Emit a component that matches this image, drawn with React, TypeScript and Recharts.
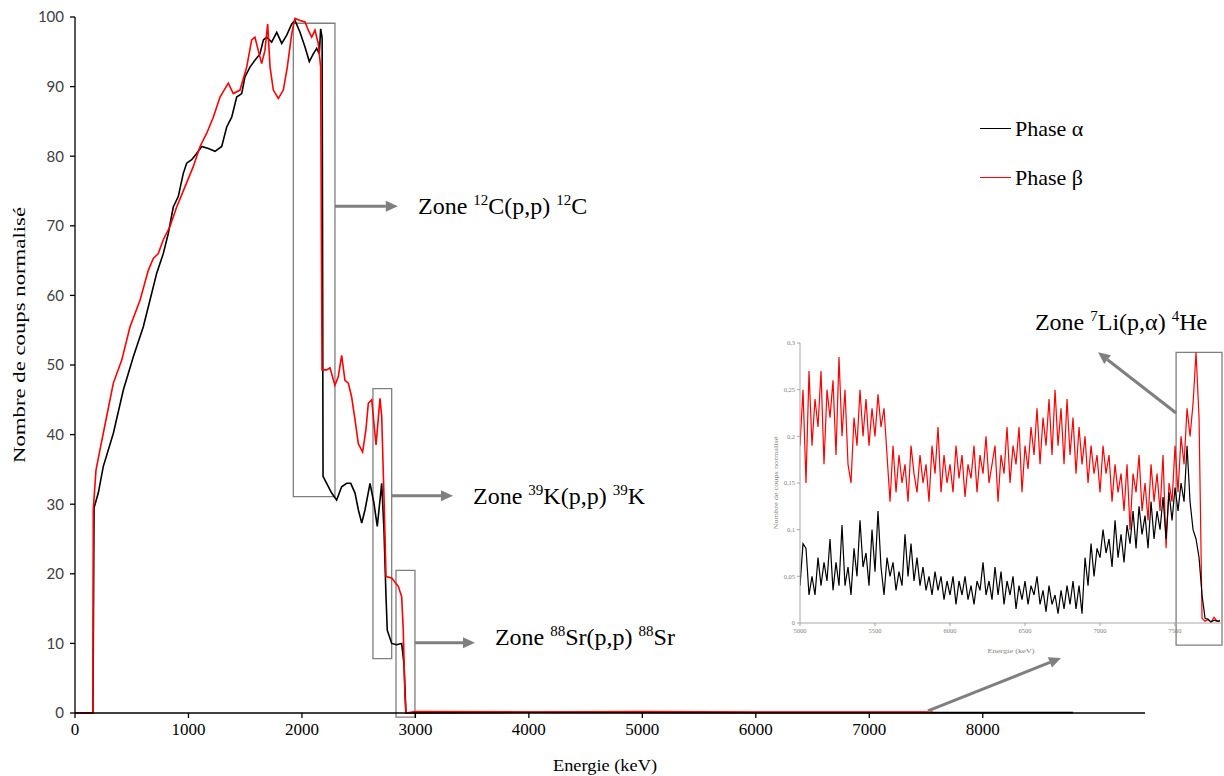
import React from "react";
import {
  Legend,
  Line,
  LineChart,
  ReferenceArea,
  ReferenceDot,
  ReferenceLine,
  XAxis,
  YAxis
} from "recharts";

const SERIF = '"Liberation Serif", "Times New Roman", serif';
const SANS = 'Lato, "Liberation Sans", sans-serif';
const GREY = "#7f7f7f";

// main spectrum
const energyTicks = [0, 1000, 2000, 3000, 4000, 5000, 6000, 7000, 8000];
const countTicks = [0, 10, 20, 30, 40, 50, 60, 70, 80, 90, 100];

// Phase α (black)
const alphaEnergy = [
  0, 158, 168, 205, 249, 338, 426, 514, 602, 676, 720, 778, 822, 866, 910, 954, 984, 1028,
  1072, 1117, 1175, 1234, 1293, 1337, 1381, 1425, 1469, 1498, 1542, 1586, 1630, 1660, 1689,
  1733, 1778, 1822, 1866, 1910, 1939, 1983, 2027, 2065, 2100, 2130, 2153, 2165, 2178, 2186,
  2218, 2262, 2306, 2350, 2394, 2430, 2468, 2497, 2527, 2556, 2600, 2635, 2664, 2703, 2723,
  2741, 2752, 2791, 2835, 2879, 2899, 2917, 4000, 6000, 8795
];
const alphaCounts = [
  0, 0, 29.5, 31.6, 35.4, 40.2, 46.4, 51.2, 55.5, 60.3, 63.2, 66.0, 68.9, 72.7, 74.2, 77.5, 79.0,
  79.5, 80.4, 81.4, 81.1, 80.7, 81.4, 84.2, 85.6, 88.5, 89.0, 91.4, 92.8, 93.8, 94.7, 96.7, 97.1,
  96.4, 97.8, 96.2, 97.4, 99.0, 99.5, 97.8, 95.7, 93.6, 94.7, 95.5, 94.7, 98.3, 97.0, 34.0,
  33.0, 31.6, 30.6, 32.5, 33.0, 33.0, 31.6, 29.2, 27.3, 29.2, 33.0, 30.1, 26.8, 33.0, 26.3,
  16.7, 11.9, 10.0, 9.8, 10.0, 7.1, 0, 0.1, 0.05, 0.05
];

// Phase β (red)
const betaEnergy = [
  0, 158, 161, 185, 220, 279, 338, 412, 485, 573, 646, 690, 734, 778, 837, 896, 969, 1042,
  1102, 1161, 1219, 1278, 1351, 1395, 1454, 1513, 1557, 1586, 1615, 1645, 1674, 1698, 1719,
  1748, 1792, 1836, 1871, 1910, 1939, 1983, 2027, 2056, 2086, 2115, 2144, 2165, 2177, 2218,
  2247, 2291, 2320, 2350, 2379, 2409, 2438, 2468, 2497, 2535, 2564, 2585, 2615, 2653, 2688,
  2703, 2723, 2741, 2791, 2849, 2879, 2893, 2908, 2917, 3000, 4000, 5000, 6000, 7000, 7561
];
const betaCounts = [
  0, 0, 29.2, 34.9, 37.8, 42.6, 47.4, 50.7, 55.5, 59.3, 63.6, 65.3, 66.0, 68.0, 69.9, 72.7, 75.6,
  78.5, 81.4, 83.3, 85.6, 88.5, 90.5, 89.0, 89.5, 92.8, 96.7, 97.1, 95.2, 93.3, 95.2, 99.0, 92.8,
  89.5, 88.3, 89.5, 92.8, 97.6, 99.8, 99.5, 99.3, 98.1, 97.1, 98.1, 96.2, 92.8, 49.3, 49.3,
  49.6, 47.1, 48.3, 51.4, 47.8, 47.4, 45.4, 42.1, 38.7, 37.5, 40.7, 44.5, 45.0, 38.5, 45.2,
  42.6, 31.1, 19.6, 19.4, 18.2, 16.7, 11.9, 2.3, 0, 0.2, 0.15, 0.2, 0.15, 0.15, 0.15
];

// inset: 5000-7800 keV, one value every 20 keV
const insetStart = 5000;
const insetStep = 20;
const insetEnergyTicks = [5000, 5500, 6000, 6500, 7000, 7500];
const insetCountTicks = [0, 0.05, 0.1, 0.15, 0.2, 0.25, 0.3];

const insetBeta = [
  0.19, 0.25, 0.15, 0.27, 0.19, 0.24, 0.21, 0.27, 0.17, 0.25,
  0.22, 0.26, 0.18, 0.285, 0.2, 0.25, 0.17, 0.15, 0.22, 0.19,
  0.25, 0.2, 0.24, 0.19, 0.23, 0.2, 0.245, 0.21, 0.23, 0.18,
  0.13, 0.19, 0.14, 0.18, 0.15, 0.17, 0.13, 0.19, 0.16, 0.14,
  0.18, 0.15, 0.17, 0.13, 0.19, 0.16, 0.21, 0.14, 0.18, 0.15,
  0.17, 0.14, 0.19, 0.155, 0.18, 0.135, 0.17, 0.155, 0.19, 0.14,
  0.18, 0.16, 0.2, 0.15, 0.17, 0.19, 0.13, 0.18, 0.16, 0.21,
  0.15, 0.19, 0.17, 0.21, 0.14, 0.19, 0.165, 0.21, 0.18, 0.23,
  0.17, 0.22, 0.19, 0.24, 0.18, 0.25, 0.19, 0.23, 0.17, 0.24,
  0.18, 0.22, 0.16, 0.21, 0.17, 0.2, 0.15, 0.19, 0.16, 0.18,
  0.14, 0.19, 0.16, 0.18, 0.13, 0.17, 0.14, 0.16, 0.12, 0.17,
  0.1, 0.16, 0.14, 0.18, 0.12, 0.15, 0.11, 0.17, 0.13, 0.16,
  0.12, 0.18, 0.08, 0.15, 0.13, 0.19, 0.14, 0.2, 0.17, 0.23,
  0.2, 0.235, 0.29, 0.22, 0.005, 0.002, 0.004, 0.001, 0.006, 0.002,
  0.003
];
const insetAlpha = [
  0.04, 0.085, 0.08, 0.03, 0.05, 0.03, 0.07, 0.04, 0.065, 0.045,
  0.09, 0.035, 0.065, 0.04, 0.105, 0.04, 0.06, 0.03, 0.08, 0.05,
  0.11, 0.06, 0.075, 0.04, 0.1, 0.055, 0.12, 0.06, 0.03, 0.07,
  0.05, 0.065, 0.035, 0.055, 0.04, 0.095, 0.05, 0.085, 0.045, 0.07,
  0.04, 0.06, 0.035, 0.05, 0.03, 0.055, 0.035, 0.05, 0.025, 0.045,
  0.03, 0.05, 0.02, 0.045, 0.03, 0.05, 0.025, 0.04, 0.02, 0.045,
  0.035, 0.065, 0.03, 0.045, 0.025, 0.06, 0.03, 0.055, 0.02, 0.045,
  0.03, 0.05, 0.015, 0.04, 0.025, 0.045, 0.02, 0.04, 0.03, 0.05,
  0.02, 0.035, 0.012, 0.04, 0.02, 0.03, 0.01, 0.035, 0.015, 0.04,
  0.02, 0.045, 0.015, 0.04, 0.01, 0.07, 0.04, 0.085, 0.05, 0.08,
  0.07, 0.1, 0.075, 0.09, 0.06, 0.11, 0.07, 0.095, 0.065, 0.105,
  0.085, 0.12, 0.08, 0.125, 0.095, 0.115, 0.08, 0.13, 0.09, 0.12,
  0.1, 0.135, 0.09, 0.14, 0.11, 0.145, 0.12, 0.15, 0.13, 0.19,
  0.13, 0.1, 0.09, 0.07, 0.03, 0.005, 0.004, 0.001, 0.003, 0.002,
  0.002
];

const toRows = (xs: number[], ys: number[]) => xs.map((x, i) => ({ x, y: ys[i] }));
const alphaData = toRows(alphaEnergy, alphaCounts);
const betaData = toRows(betaEnergy, betaCounts);
const insetRows = (ys: number[]) => ys.map((y, i) => ({ x: insetStart + i * insetStep, y }));
const insetAlphaData = insetRows(insetAlpha);
const insetBetaData = insetRows(insetBeta);

function Arrow(props: any) {
  const { x1, y1, x2, y2 } = props;
  if ([x1, y1, x2, y2].some((v) => typeof v !== "number" || isNaN(v))) return null;
  const dx = x2 - x1;
  const dy = y2 - y1;
  const len = Math.hypot(dx, dy) || 1;
  const ux = dx / len;
  const uy = dy / len;
  const bx = x2 - ux * 12;
  const by = y2 - uy * 12;
  return (
    <g>
      <line x1={x1} y1={y1} x2={bx} y2={by} stroke={GREY} strokeWidth={3} />
      <polygon
        points={`${x2},${y2} ${bx - uy * 5.5},${by + ux * 5.5} ${bx + uy * 5.5},${by - ux * 5.5}`}
        fill={GREY}
      />
    </g>
  );
}

function zoneLabel(iso1: string, body1: string, iso2: string, body2: string) {
  return (p: any) => (
    <text x={p.cx} y={p.cy} dy={8} fontFamily={SERIF} fontSize={24} fill="#000">
      {"Zone "}
      <tspan fontSize={15} dy={-9}>{iso1}</tspan>
      <tspan dy={9}>{body1 + " "}</tspan>
      <tspan fontSize={15} dy={-9}>{iso2}</tspan>
      <tspan dy={9}>{body2}</tspan>
    </text>
  );
}

const renderLegend = (props: any) => (
  <div style={{ fontFamily: SERIF, fontSize: 22, color: "#000" }}>
    {(props.payload || []).map((item: any) => (
      <div key={item.value} style={{ display: "flex", alignItems: "center", height: 49 }}>
        <span
          style={{
            display: "inline-block",
            width: 31,
            borderTop: `1.5px solid ${item.color}`,
            marginRight: 4
          }}
        />
        {item.value}
      </div>
    ))}
  </div>
);

const comma = (v: number) => String(v).replace(".", ",");

export default function App() {
  return (
    <div style={{ position: "absolute", left: 0, top: 0, width: 1224, height: 776, background: "#fff" }}>
      <LineChart width={1224} height={776} margin={{ top: 17, right: 79, bottom: 0, left: 0 }}>
        <XAxis
          type="number"
          dataKey="x"
          domain={[0, 9430]}
          ticks={energyTicks}
          allowDataOverflow
          height={63}
          stroke="#000"
          strokeWidth={1.3}
          tickSize={5}
          tickMargin={5}
          tick={{ fontFamily: SERIF, fontSize: 17, fill: "#000" }}
          label={{
            content: (p: any) => {
              const vb = p.viewBox || { x: 75, y: 713, width: 1070 };
              return (
                <text
                  x={vb.x + vb.width / 2 - 5}
                  y={vb.y + 58}
                  textAnchor="middle"
                  fontFamily={SERIF}
                  fontSize={17}
                  textLength={104}
                  lengthAdjust="spacingAndGlyphs"
                  fill="#000"
                >
                  Energie (keV)
                </text>
              );
            }
          }}
        />
        <YAxis
          type="number"
          domain={[0, 100]}
          ticks={countTicks}
          width={75}
          stroke="#000"
          strokeWidth={1.3}
          tickSize={5}
          tickMargin={6}
          tick={{ fontFamily: SANS, fontSize: 15, fill: "#404040" }}
          label={{
            content: (p: any) => {
              const vb = p.viewBox || { x: 0, y: 17, height: 696 };
              const cx = vb.x + 19;
              const cy = vb.y + vb.height / 2 - 30;
              return (
                <text
                  transform={`translate(${cx},${cy}) rotate(-90)`}
                  textAnchor="middle"
                  dominantBaseline="central"
                  fontFamily={SERIF}
                  fontSize={17}
                  textLength={256}
                  lengthAdjust="spacingAndGlyphs"
                  fill="#000"
                >
                  Nombre de coups normalisé
                </text>
              );
            }
          }}
        />
        <Legend
          layout="horizontal"
          verticalAlign="middle"
          align="center"
          content={renderLegend}
          wrapperStyle={{ left: 980, top: 104, width: 160 }}
        />
        <Line
          data={alphaData}
          dataKey="y"
          name="Phase α"
          stroke="#000"
          strokeWidth={1.6}
          dot={false}
          type="linear"
          isAnimationActive={false}
        />
        <Line
          data={betaData}
          dataKey="y"
          name="Phase β"
          stroke="#ff0000"
          strokeWidth={1.6}
          dot={false}
          type="linear"
          isAnimationActive={false}
        />
        <ReferenceArea x1={1924} x2={2291} y1={31.1} y2={99.1} fill="none" stroke={GREY} strokeWidth={1.3} ifOverflow="visible" />
        <ReferenceArea x1={2626} x2={2791} y1={7.8} y2={46.6} fill="none" stroke={GREY} strokeWidth={1.3} ifOverflow="visible" />
        <ReferenceArea x1={2829} x2={2996} y1={-0.6} y2={20.5} fill="none" stroke={GREY} strokeWidth={1.3} ifOverflow="visible" />
        <ReferenceLine segment={[{ x: 2291, y: 72.8 }, { x: 2845, y: 72.8 }]} shape={Arrow} ifOverflow="visible" />
        <ReferenceLine segment={[{ x: 2791, y: 31.2 }, { x: 3331, y: 31.2 }]} shape={Arrow} ifOverflow="visible" />
        <ReferenceLine segment={[{ x: 2996, y: 10.1 }, { x: 3525, y: 10.1 }]} shape={Arrow} ifOverflow="visible" />
        <ReferenceLine segment={[{ x: 7517, y: 0.3 }, { x: 8690, y: 7.9 }]} shape={Arrow} ifOverflow="visible" />
        <ReferenceDot x={3023} y={72.8} r={0} ifOverflow="visible" shape={zoneLabel("12", "C(p,p)", "12", "C")} />
        <ReferenceDot x={3508} y={31.2} r={0} ifOverflow="visible" shape={zoneLabel("39", "K(p,p)", "39", "K")} />
        <ReferenceDot x={3701} y={10.9} r={0} ifOverflow="visible" shape={zoneLabel("88", "Sr(p,p)", "88", "Sr")} />
        <ReferenceDot x={8460} y={56.2} r={0} ifOverflow="visible" shape={zoneLabel("7", "Li(p,α)", "4", "He")} />
      </LineChart>

      <div style={{ position: "absolute", left: 760, top: 335 }}>
        <LineChart width={464} height={325} margin={{ top: 8, right: 2, bottom: 7, left: 0 }}>
          <XAxis
            type="number"
            dataKey="x"
            domain={[5000, 7813]}
            ticks={insetEnergyTicks}
            allowDataOverflow
            height={30}
            stroke="#a6a6a6"
            tickSize={3}
            tickMargin={2}
            tick={{ fontFamily: SERIF, fontSize: 6.5, fill: GREY }}
            label={{
              content: (p: any) => {
                const vb = p.viewBox || { x: 40, y: 280, width: 422 };
                return (
                  <text
                    x={vb.x + vb.width / 2}
                    y={vb.y + 30}
                    textAnchor="middle"
                    fontFamily={SERIF}
                    fontSize={6.5}
                    textLength={47}
                    lengthAdjust="spacingAndGlyphs"
                    fill={GREY}
                  >
                    Energie (keV)
                  </text>
                );
              }
            }}
          />
          <YAxis
            type="number"
            domain={[0, 0.3]}
            ticks={insetCountTicks}
            width={40}
            stroke="#a6a6a6"
            tickSize={3}
            tickMargin={2}
            tickFormatter={comma}
            tick={{ fontFamily: SERIF, fontSize: 6.5, fill: GREY }}
            label={{
              content: (p: any) => {
                const vb = p.viewBox || { x: 0, y: 8, height: 280 };
                const cx = vb.x + 15;
                const cy = vb.y + vb.height / 2;
                return (
                  <text
                    transform={`translate(${cx},${cy}) rotate(-90)`}
                    textAnchor="middle"
                    dominantBaseline="central"
                    fontFamily={SERIF}
                    fontSize={6.5}
                    textLength={93}
                    lengthAdjust="spacingAndGlyphs"
                    fill={GREY}
                  >
                    Nombre de coups normalisé
                  </text>
                );
              }
            }}
          />
          <Line
            data={insetBetaData}
            dataKey="y"
            stroke="#ff0000"
            strokeWidth={1.2}
            dot={false}
            type="linear"
            isAnimationActive={false}
          />
          <Line
            data={insetAlphaData}
            dataKey="y"
            stroke="#000"
            strokeWidth={1.2}
            dot={false}
            type="linear"
            isAnimationActive={false}
          />
          <ReferenceArea x1={7507} x2={7813} y1={-0.0236} y2={0.29} fill="none" stroke={GREY} strokeWidth={1.3} ifOverflow="visible" />
          <ReferenceLine segment={[{ x: 7507, y: 0.225 }, { x: 6987, y: 0.29 }]} shape={Arrow} ifOverflow="visible" />
        </LineChart>
      </div>
    </div>
  );
}
